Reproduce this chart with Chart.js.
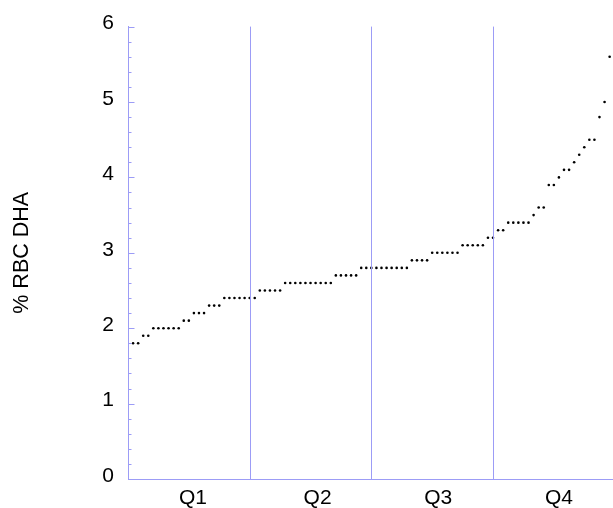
<!DOCTYPE html>
<html>
<head>
<meta charset="utf-8">
<script src="https://cdn.jsdelivr.net/npm/chart.js@4"></script>
<style>
  html, body { margin: 0; padding: 0; background: #fff; overflow: hidden; }
  #wrap { width: 613px; height: 508px; overflow: hidden; }
</style>
</head>
<body>
<div id="wrap"><canvas id="chart-dha" width="616" height="508"></canvas></div>
<script>
// % RBC DHA, sorted, one value per subject (rank 1..95)
const dhaValues = [
  1.8, 1.8,
  1.9, 1.9,
  2.0, 2.0, 2.0, 2.0, 2.0, 2.0,
  2.1, 2.1,
  2.2, 2.2, 2.2,
  2.3, 2.3, 2.3,
  2.4, 2.4, 2.4, 2.4, 2.4, 2.4, 2.4,
  2.5, 2.5, 2.5, 2.5, 2.5,
  2.6, 2.6, 2.6, 2.6, 2.6, 2.6, 2.6, 2.6, 2.6, 2.6,
  2.7, 2.7, 2.7, 2.7, 2.7,
  2.8, 2.8, 2.8, 2.8, 2.8, 2.8, 2.8, 2.8, 2.8, 2.8,
  2.9, 2.9, 2.9, 2.9,
  3.0, 3.0, 3.0, 3.0, 3.0, 3.0,
  3.1, 3.1, 3.1, 3.1, 3.1,
  3.2, 3.2,
  3.3, 3.3,
  3.4, 3.4, 3.4, 3.4, 3.4,
  3.5,
  3.6, 3.6,
  3.9, 3.9,
  4.0,
  4.1, 4.1,
  4.2, 4.3, 4.4,
  4.5, 4.5,
  4.8, 5.0, 5.6
];
const quartileLabels = ["Q1", "Q2", "Q3", "Q4"];
const labelPositions = [12.8, 37.4, 61.2, 85];
const quartileCuts = [24, 48, 72];
const yTicks = [0, 1, 2, 3, 4, 5, 6];

const axisBlue = "#9c9cf6";
const tickFont = { family: "'Liberation Sans', Arial, sans-serif", size: 21 };
const titleFont = { family: "'Liberation Sans', Arial, sans-serif", size: 21.5 };

// quartile separators + y ticks drawn inside the plot (minor every 0.2)
const innerMarks = {
  id: "innerMarks",
  afterDatasetsDraw(chart) {
    const ctx = chart.ctx;
    const x = chart.scales.x;
    const y = chart.scales.y;
    const area = chart.chartArea;
    const left = Math.round(area.left) + 0.5;
    ctx.save();
    ctx.strokeStyle = axisBlue;
    ctx.lineWidth = 1;
    quartileCuts.forEach((c) => {
      const px = Math.round(x.getPixelForValue(c)) + 0.5;
      ctx.beginPath();
      ctx.moveTo(px, area.top);
      ctx.lineTo(px, area.bottom);
      ctx.stroke();
    });
    for (let k = 0; k <= 30; k++) {
      const py = Math.round(y.getPixelForValue(k / 5)) + 0.5;
      const len = k % 5 === 0 ? 6 : 3;
      ctx.beginPath();
      ctx.moveTo(left, py);
      ctx.lineTo(left + len, py);
      ctx.stroke();
    }
    ctx.restore();
  },
};

const ctx = document.getElementById("chart-dha").getContext("2d");
const dhaChart = new Chart(ctx, {
  type: "scatter",
  data: {
    datasets: [
      {
        label: "% RBC DHA",
        data: dhaValues.map((v, i) => ({ x: i + 1, y: v })),
        backgroundColor: "#000",
        borderWidth: 0,
        pointRadius: 1.3,
        pointHoverRadius: 1.3,
      },
    ],
  },
  options: {
    responsive: false,
    animation: false,
    devicePixelRatio: 1,
    layout: { padding: { top: 25, left: 0, right: 0, bottom: 0 } },
    plugins: { legend: { display: false }, tooltip: { enabled: false } },
    scales: {
      x: {
        type: "linear",
        min: 0,
        max: 96,
        afterBuildTicks: (scale) => {
          scale.ticks = labelPositions.map((v) => ({ value: v }));
        },
        afterFit: (scale) => { scale.height = 29; },
        border: { display: true, color: axisBlue, width: 1 },
        grid: { display: false, drawTicks: false },
        ticks: {
          autoSkip: false,
          maxRotation: 0,
          padding: 7,
          color: "#000",
          font: tickFont,
          callback: (v) => {
            const k = labelPositions.indexOf(v);
            return k >= 0 ? quartileLabels[k] : "";
          },
        },
      },
      y: {
        min: 0,
        max: 6,
        afterBuildTicks: (scale) => { scale.ticks = yTicks.map((v) => ({ value: v })); },
        afterFit: (scale) => { scale.width = 128; },
        border: { display: true, color: axisBlue, width: 1 },
        grid: { display: false, drawTicks: false },
        ticks: { padding: 14, labelOffset: -3, color: "#000", font: tickFont },
        title: {
          display: true,
          text: "% RBC DHA",
          color: "#000",
          font: titleFont,
          padding: { top: 9, bottom: 0 },
        },
      },
    },
  },
  plugins: [innerMarks],
});
</script>
</body>
</html>
